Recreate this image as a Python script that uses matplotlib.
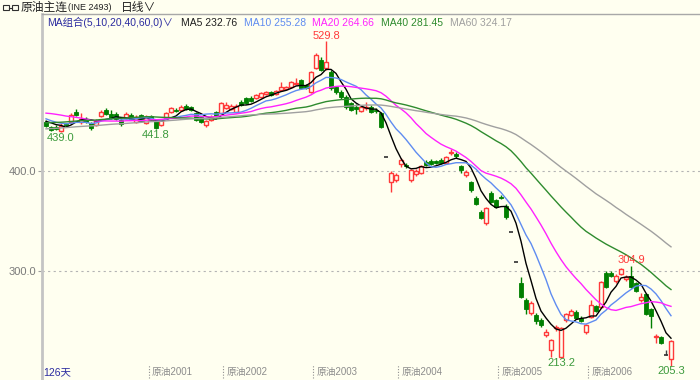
import numpy as np
import matplotlib
matplotlib.use('Agg')
import matplotlib.pyplot as plt
from matplotlib.patches import Rectangle
from matplotlib.lines import Line2D

plt.rcParams['font.family'] = ['Liberation Sans', 'Noto Sans CJK SC', 'DejaVu Sans']

# ---------------- data ----------------
opens = [449, 444, 444, 440, 447, 449, 459, 449, 452, 448,
         446, 455, 461, 457, 457, 451, 453, 456, 449, 456,
         448, 455, 450, 446, 453, 459, 461, 461, 465, 464,
         458, 454, 446, 451, 459, 458, 463, 462, 459, 469,
         473, 473, 473, 474, 477, 479, 477, 481, 482, 484,
         487, 491, 486, 479, 503, 511, 503, 499, 484, 479,
         474, 468, 464, 460, 463, 464, 461, 458, 414, 389,
         391, 407, 406, 391, 397, 398, 409, 410, 410, 411,
         408, 418, 417, 405, 396, 389, 373, 359, 348, 378,
         371, 374, 365, 339, 309, 288, 271, 258, 256, 251,
         236, 221, 243, 214, 251, 256, 259, 253, 239, 254,
         265, 264, 298, 298, 290, 297, 292, 295, 288, 271,
         277, 262, 234, 234, 216, 212]
highs = [451, 445, 446, 448, 448, 458, 462, 458, 454, 449,
         452, 461, 463, 461, 459, 453, 459, 458, 456, 457,
         456, 456, 451, 452, 459, 464, 463, 466, 467, 465,
         459, 455, 451, 456, 460, 469, 469, 467, 467, 471,
         474, 475, 477, 479, 480, 480, 481, 489, 485, 490,
         493, 492, 487, 500, 518, 514, 529.8, 501, 485, 481,
         476, 469, 467, 465, 469, 466, 463, 459, 414, 400,
         398, 413, 408, 402, 402, 406, 411, 412, 411, 413,
         415, 422, 419, 406, 401, 390, 375, 361, 364, 380,
         372, 376, 367, 339, 309, 294, 273, 270, 258, 253,
         242, 232, 246, 244, 258, 262, 261, 255, 247, 271,
         266, 290, 300, 300, 297, 303, 296, 304.9, 289, 278,
         278, 263, 237, 235, 221, 231]
lows = [444, 440, 441, 439.0, 444, 448, 455, 447, 448, 441,
        445, 454, 456, 452, 451, 445, 452, 451, 448, 449,
        447, 450, 441.8, 445, 452, 458, 459, 460, 461, 460,
        450, 448, 444, 450, 454, 457, 462, 461, 458, 465,
        467, 469, 472, 473, 476, 475, 476, 480, 481, 483,
        486, 482, 482, 478, 502, 500, 501, 481, 477, 472,
        462, 460, 457, 459, 461, 458, 458, 443, 414, 379,
        389, 404, 403, 389, 395, 397, 405, 406, 407, 407,
        407, 416, 413, 398, 394, 379, 366, 352, 346, 368,
        363, 372, 352, 339, 309, 273, 257, 256, 247, 244,
        234, 214, 240, 213.2, 249, 255, 252, 249, 237, 253,
        259, 263, 283, 294, 288, 296, 290, 283, 279, 269,
        256, 243, 228, 227, 216, 205.3]
closes = [445, 441, 442, 445, 446, 456, 456, 452, 449, 443,
          450, 459, 457, 453, 452, 447, 457, 452, 454, 450,
          454, 451, 443, 451, 458, 463, 460, 464, 462, 461,
          451, 449, 450, 454, 455, 468, 466, 465, 465, 466,
          468, 470, 476, 478, 479, 476, 480, 484, 484, 489,
          488, 483, 483, 499, 516, 501, 509, 483, 479, 474,
          464, 461, 462, 464, 464, 459, 460, 444, 414, 398,
          396, 411, 405, 401, 400, 405, 406, 407, 408, 408,
          414, 419, 415, 401, 399, 381, 367, 353, 363, 369,
          364, 373, 354, 339, 309, 274, 262, 268, 250, 246,
          239, 231, 244, 243, 257, 260, 253, 250, 246, 266,
          260, 289, 284, 295, 295, 302, 294, 284, 280, 274,
          257, 255, 235, 228, 216, 230]
# closes before the visible window (only feed the moving averages)
prior_closes = [424, 426, 422, 428, 431, 429, 433, 430, 427, 432,
                435, 431, 428, 433, 436, 432, 430, 434, 431, 428,
                432, 435, 437, 434, 438, 440, 436, 439, 441, 437,
                440, 443, 439, 436, 441, 444, 440, 438, 442, 439,
                450, 456, 461, 465, 468, 470, 466, 469, 467, 463,
                460, 457, 455, 452, 450, 448, 451, 449, 455]

ma_periods = [5, 10, 20, 40, 60]
ma_last = ['232.76', '255.28', '264.66', '281.45', '324.17']
ma_colors = ['#000000', '#5F8CF0', '#FF22FF', '#2E8B2E', '#A0A0A0']
legend_x = [181, 244, 312, 381, 450]

yticks = [300, 400]
ytick_labels = ['300.0', '400.0']

contract_idx = [20, 35, 53, 70, 90, 108]
contract_labels = ['原油2001', '原油2002', '原油2003', '原油2004', '原油2005', '原油2006']

mark_idx = [56, 117, 3, 22, 103, 125]
mark_kind = ['high', 'high', 'low', 'low', 'low', 'low']
mark_text = ['529.8', '304.9', '439.0', '441.8', '213.2', '205.3']

# ---------------- style ----------------
BG = '#FFFFF0'
RED = '#FF3A3A'
GREEN = '#007F00'
LBLGREEN = '#3C9A3C'
W, H = 700, 380

fig = plt.figure(figsize=(7, 3.8), dpi=100, facecolor=BG)
ax = fig.add_axes([42 / W, 0, 658 / W, 366 / H])
ax.set_facecolor(BG)
ax.set_xlim(-0.8, 130.8)
ax.set_ylim(191, 557)

for s in ['bottom', 'right']:
    ax.spines[s].set_visible(False)
ax.spines['left'].set_color('#C4C4C4')
ax.spines['left'].set_linewidth(2)
ax.spines['top'].set_color('#A8A8A8')
ax.spines['top'].set_linewidth(1)
ax.set_xticks([])
ax.set_yticks(yticks)
ax.set_yticklabels(ytick_labels)
ax.tick_params(axis='y', direction='out', length=3, width=0.8, color='#A0A0A0',
               labelsize=8, labelcolor='#7A7A7A', pad=1)
for yt in yticks:
    ax.axhline(yt, color='#B4B4B4', lw=0.8, ls=(0, (2, 3)), zorder=1)

O = np.array(opens, float)
Hh = np.array(highs, float)
L = np.array(lows, float)
C = np.array(closes, float)
n = len(C)
x = np.arange(n)
up = C > O
down = C < O
doji = C == O

wick_colors = np.where(up, RED, np.where(down, GREEN, '#404040'))
ax.vlines(x, L, Hh, colors=list(wick_colors), lw=1, zorder=2)
ax.bar(x[up], (C - O)[up], bottom=O[up], width=0.7, facecolor=BG,
       edgecolor=RED, lw=1, zorder=3)
ax.bar(x[down], (O - C)[down], bottom=C[down], width=0.7, facecolor=GREEN,
       edgecolor=GREEN, lw=0.6, zorder=3)
ax.hlines(O[doji], x[doji] - 0.4, x[doji] + 0.4, colors='#303030', lw=1.2, zorder=3)

full = np.concatenate([np.array(prior_closes, float), C])
for p, col in zip(ma_periods, ma_colors):
    ma = np.convolve(full, np.ones(p) / p, mode='valid')[-n:]
    ax.plot(x, ma, color=col, lw=1, zorder=4)

for i, k, t in zip(mark_idx, mark_kind, mark_text):
    if k == 'high':
        ax.annotate(t, (i, Hh[i]), xytext=(0, 0.5), textcoords='offset points',
                    ha='center', va='bottom', color=RED, fontsize=8, zorder=6)
    else:
        ax.annotate(t, (i, L[i]), xytext=(0, -0.5), textcoords='offset points',
                    ha='center', va='top', color=LBLGREEN, fontsize=8, zorder=6)

xt = ax.get_xaxis_transform()
for i, t in zip(contract_idx, contract_labels):
    ax.plot([i + 0.5, i + 0.5], [0.006, 0.04], transform=xt, color='#909090',
            lw=0.8, ls=(0, (1, 1.5)), zorder=5)
    ax.annotate(t, (i + 0.5, 0.022), xycoords=xt, xytext=(2, 0),
                textcoords='offset points', ha='left', va='center',
                color='#8C8C8C', fontsize=7, zorder=5)


def ftxt(px, py, s, **kw):
    fig.text(px / W, 1 - py / H, s, **kw)


ftxt(43, 372, '126天', color='#2B2BA0', fontsize=7.5, va='center', ha='left')

# header
for rx in (3, 12):
    fig.add_artist(Rectangle((rx / W, 1 - 10 / H), 6 / W, 5 / H, transform=fig.transFigure,
                             facecolor='none', edgecolor='#303030', lw=0.8))
fig.add_artist(Line2D([9 / W, 12 / W], [1 - 7.5 / H, 1 - 7.5 / H], transform=fig.transFigure,
                      color='#303030', lw=0.8))
ftxt(21, 7.5, '原油主连', color='#202020', fontsize=8.5, va='center', ha='left')
ftxt(68, 7.5, '(INE 2493)', color='#202020', fontsize=6.5, va='center', ha='left')
ftxt(121, 7.5, '日线∨', color='#202020', fontsize=8.5, va='center', ha='left')

# MA legend
ftxt(47, 22.5, 'MA组合(5,10,20,40,60,0)∨', color='#2B2BA0', fontsize=7.5, va='center', ha='left')
for p, v, col, lx in zip(ma_periods, ma_last, ma_colors, legend_x):
    c = '#202020' if col == '#000000' else col
    ftxt(lx, 22.5, f'MA{p} {v}', color=c, fontsize=7.5, va='center', ha='left')

fig.savefig('out.png', dpi=100, facecolor=BG)
